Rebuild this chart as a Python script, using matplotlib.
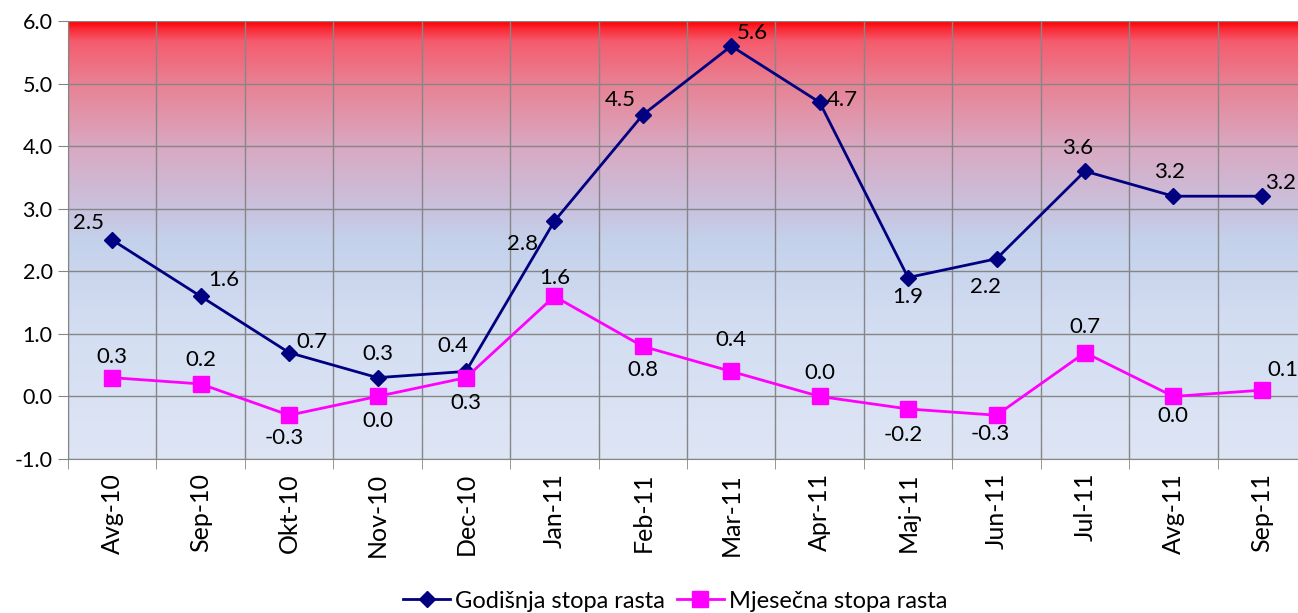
import matplotlib
matplotlib.use("Agg")
import matplotlib.pyplot as plt
import numpy as np
from matplotlib.colors import LinearSegmentedColormap
from matplotlib.lines import Line2D

plt.rcParams['font.family'] = ['Lato', 'DejaVu Sans']

categories = ["Avg-10", "Sep-10", "Okt-10", "Nov-10", "Dec-10", "Jan-11", "Feb-11",
              "Mar-11", "Apr-11", "Maj-11", "Jun-11", "Jul-11", "Avg-11", "Sep-11"]
godisnja = [2.5, 1.6, 0.7, 0.3, 0.4, 2.8, 4.5, 5.6, 4.7, 1.9, 2.2, 3.6, 3.2, 3.2]
mjesecna = [0.3, 0.2, -0.3, 0.0, 0.3, 1.6, 0.8, 0.4, 0.0, -0.2, -0.3, 0.7, 0.0, 0.1]
yticks = [-1.0, 0.0, 1.0, 2.0, 3.0, 4.0, 5.0, 6.0]
series_names = ["Godišnja stopa rasta", "Mjesečna stopa rasta"]

# label offsets in pixels (dx, dy) with dy positive = up
god_off = [(-24, 17), (23, 16), (23, 11), (0, 24), (-13, 25), (-32, -23), (-23, 15),
           (21, 13), (23, 2), (0, -19), (-11, -28), (-7, 23), (-4, 24), (19, 13)]
mje_off = [(0, 21), (0, 24), (-5, -23), (0, -25), (0, -25), (0, 18), (0, -24),
           (0, 31), (0, 23), (-5, -26), (-6, -19), (0, 26), (0, -20), (21, 20)]

W, H = 1298, 613
fig = plt.figure(figsize=(W / 100, H / 100), dpi=100)
ax = fig.add_axes([68 / W, (H - 459) / H, (1306 - 68) / W, (459 - 21) / H])

x = np.arange(len(categories))
ax.set_xlim(-0.5, len(categories) - 0.5)
ax.set_ylim(-1, 6)

# gradient background
stops = [
    (0.0, (0.87, 0.90, 0.96)),
    (0.30, (0.83, 0.87, 0.95)),
    (0.50, (0.77, 0.82, 0.92)),
    (0.57, (0.79, 0.76, 0.87)),
    (0.714, (0.85, 0.66, 0.76)),
    (0.857, (0.91, 0.51, 0.58)),
    (0.955, (0.96, 0.36, 0.43)),
    (0.985, (0.98, 0.16, 0.20)),
    (1.0, (1.0, 0.0, 0.0)),
]
cmap = LinearSegmentedColormap.from_list("bg", stops)
grad = np.linspace(0, 1, 512).reshape(-1, 1)
ax.imshow(grad, aspect='auto', cmap=cmap, origin='lower',
          extent=[-0.5, len(categories) - 0.5, -1, 6], zorder=0)

gc = '#868686'
for yv in yticks:
    ax.axhline(yv, color=gc, lw=1, zorder=1)
for xv in np.arange(-0.5, len(categories), 1.0):
    ax.axvline(xv, color=gc, lw=1, zorder=1)

ax.plot(x, godisnja, color='#000080', lw=2, marker='D', ms=8, zorder=3)
ax.plot(x, mjesecna, color='#FF00FF', lw=2, marker='s', ms=11, zorder=3)

for i in range(len(categories)):
    ax.annotate(f"{godisnja[i]:.1f}", (x[i], godisnja[i]), xytext=god_off[i],
                textcoords='offset pixels', ha='center', va='center', fontsize=16, zorder=4)
    ax.annotate(f"{mjesecna[i]:.1f}", (x[i], mjesecna[i]), xytext=mje_off[i],
                textcoords='offset pixels', ha='center', va='center', fontsize=16, zorder=4)

ax.set_yticks(yticks)
ax.set_yticklabels([f"{v:.1f}" for v in yticks], fontsize=15.5)
ax.set_xticks(x)
ax.set_xticklabels(categories, rotation=90, fontsize=18)
ax.set_xticks(np.arange(-0.5, len(categories), 1.0), minor=True)
ax.tick_params(axis='x', which='major', length=0, pad=10)
ax.tick_params(axis='x', which='minor', length=7, color=gc)
ax.tick_params(axis='y', length=7, color=gc, pad=4)

for s in ['top', 'right']:
    ax.spines[s].set_visible(False)
for s in ['left', 'bottom']:
    ax.spines[s].set_color(gc)

handles = [Line2D([], [], color='#000080', lw=2, marker='D', ms=8),
           Line2D([], [], color='#FF00FF', lw=2, marker='s', ms=11)]
fig.legend(handles, series_names, loc='center', bbox_to_anchor=(675 / W, 12 / H),
           ncol=2, frameon=False, fontsize=17, handlelength=2.0, columnspacing=0.5,
           handletextpad=0.2)

fig.savefig("out.png", dpi=100)
